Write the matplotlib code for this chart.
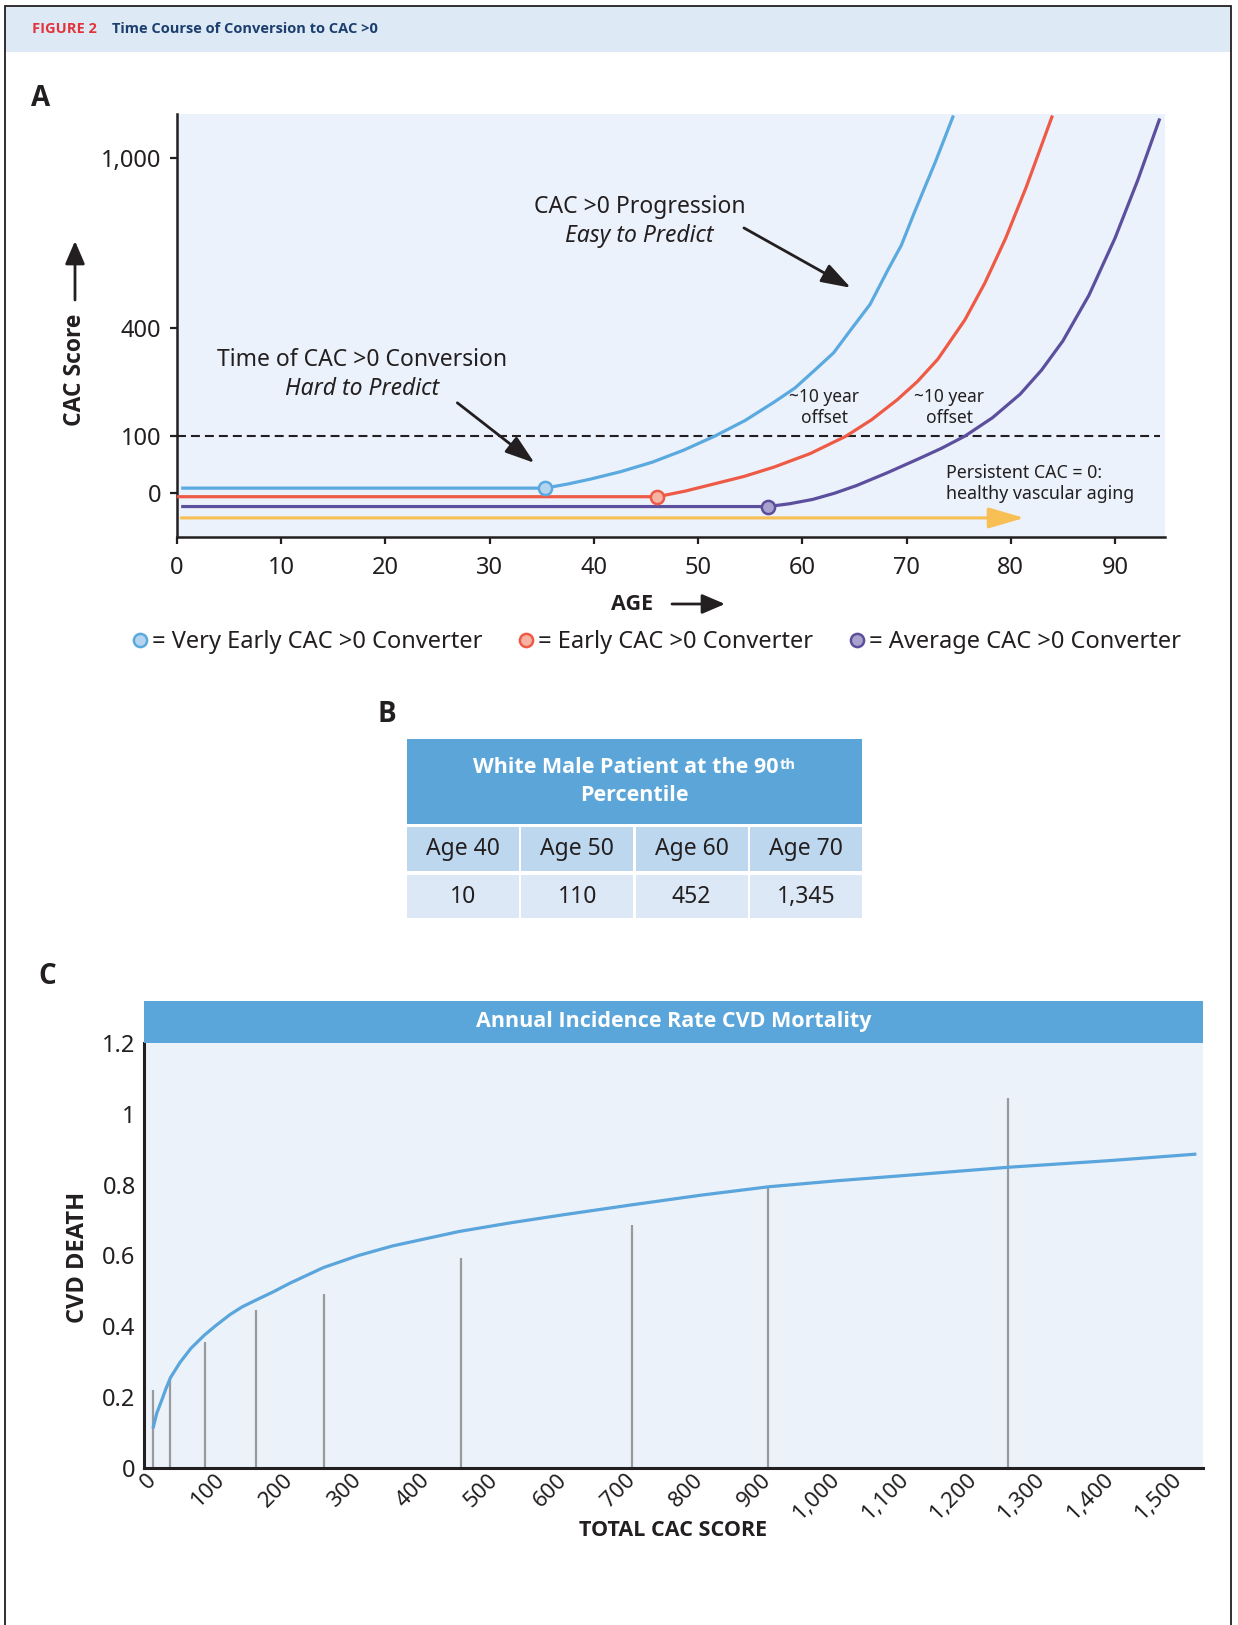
import numpy as np
import matplotlib
matplotlib.use('Agg')
import matplotlib.pyplot as plt
from matplotlib import font_manager as fm
from matplotlib.patches import Rectangle
from matplotlib.lines import Line2D

plt.rcParams['font.family'] = ['Noto Sans', 'DejaVu Sans']


def has_bold(name):
    for f in fm.fontManager.ttflist:
        if f.name == name:
            w = f.weight
            if isinstance(w, str):
                w = fm.weight_dict.get(w, 400)
            if w >= 600:
                return True
    return False


BOLD = [next((n for n in ['Noto Sans', 'Open Sans', 'Lato', 'Roboto', 'Liberation Sans']
              if has_bold(n)), 'DejaVu Sans'), 'DejaVu Sans']

# --- Panel A: schematic CAC score vs age for three converter types ---
blue_age = [0.4, 35.3, 37.5, 39.7, 42.6, 45.6, 48.6, 51.6, 54.5, 57.3, 59.3, 61.3, 63.0,
            64.8, 66.5, 68.2, 69.5, 70.8, 72.8, 74.5]
blue_cac = [4, 4, 9, 16, 28, 45, 69, 100, 137, 184, 222, 275, 323,
            400, 475, 590, 677, 800, 990, 1170]
red_age = [0, 46.1, 48.8, 51.5, 54.4, 57.3, 60.75, 64.2, 66.65, 69.1, 71.05, 73.0, 75.6,
           77.5, 79.5, 81.5, 84.0]
red_cac = [-3, -3, 1.2, 9, 20, 36, 62, 100, 139, 190, 240, 304, 425,
           545, 701, 892, 1170]
purple_age = [0.4, 56.7, 58.8, 61.0, 63.1, 65.2, 68.15, 71.1, 73.35, 75.6, 78.25, 80.9,
              82.95, 85.0, 87.5, 90.0, 92.2, 94.3]
purple_cac = [-15.7, -15.7, -11.6, -6, -0.1, 7, 26, 51, 73, 100, 144, 205,
              272, 359, 505, 702, 918, 1158]
conversion_age = [35.3, 46.1, 56.7]
conversion_cac = [4, -3, -15.7]
converter_labels = ['= Very Early CAC >0 Converter', '= Early CAC >0 Converter',
                    '= Average CAC >0 Converter']
zero_arrow_age = [0.4, 81.3]
zero_arrow_cac = -34.5
threshold_cac = 100
age_ticks = list(range(0, 100, 10))
cac_ticks = [0, 100, 400, 1000]

# --- Panel B: table ---
table_ages = ['Age 40', 'Age 50', 'Age 60', 'Age 70']
table_cac = [10, 110, 452, 1345]

# --- Panel C: annual CVD mortality by CAC score ---
cac_bins = [0, 25, 75, 150, 250, 450, 700, 900, 1250]
death_rate = [0.219, 0.25, 0.355, 0.445, 0.49, 0.593, 0.686, 0.792, 1.045]
fit_cac = [0, 5, 12, 18, 25, 39, 55, 74, 90, 112, 130, 149, 175, 200, 249, 300, 350, 400,
           448, 525, 600, 700, 800, 900, 1000, 1100, 1250, 1400, 1524]
fit_death = [0.116, 0.155, 0.19, 0.222, 0.255, 0.298, 0.338, 0.374, 0.40, 0.433, 0.455,
             0.473, 0.497, 0.522, 0.566, 0.60, 0.627, 0.648, 0.668, 0.693, 0.715, 0.743,
             0.77, 0.794, 0.811, 0.826, 0.849, 0.868, 0.886]
cac_c_ticks = list(range(0, 1600, 100))
death_ticks = [0, 0.2, 0.4, 0.6, 0.8, 1, 1.2]

BLUE, RED, PURPLE, YELLOW = '#5AA9DF', '#EE5A45', '#5B4F9E', '#F8BF55'
FACES = ['#B7D4EE', '#F6B3A3', '#A9A2CC']
INK = '#231F20'

W, H = 1238, 1625
fig = plt.figure(figsize=(W / 100, H / 100), dpi=100)


def fx(px):
    return px / W


def fy(py):
    return 1 - py / H


# header band + frame
fig.add_artist(Rectangle((fx(5), fy(52)), fx(1231) - fx(5), fy(6) - fy(52),
                         transform=fig.transFigure, fc='#DDE9F5', ec='none', zorder=0))
fig.add_artist(Rectangle((fx(5), -0.01), fx(1231) - fx(5), fy(6) + 0.01,
                         transform=fig.transFigure, fill=False, ec=INK, lw=1.3, zorder=5))
fig.text(fx(32), fy(29), 'FIGURE 2', color='#E1353B', fontsize=10.5, weight='bold',
         family=BOLD, va='center')
fig.text(fx(112), fy(29), 'Time Course of Conversion to CAC >0', color='#1C3F6E',
         fontsize=10.5, weight='bold', family=BOLD, va='center')

for lab, x, y in [('A', 31, 106), ('B', 377, 722), ('C', 38, 984)]:
    fig.text(fx(x), fy(y), lab, fontsize=20, weight='bold', family=BOLD,
             va='baseline', color=INK)

# ---------------- Panel A ----------------
axA = fig.add_axes([fx(177), fy(537), fx(1165) - fx(177), fy(114) - fy(537)])
axA.set_facecolor('#EBF2FB')


def fwd(v):
    v = np.asarray(v, float)
    return np.sign(v) * np.abs(v) ** 0.77


def inv(v):
    v = np.asarray(v, float)
    return np.sign(v) * np.abs(v) ** (1 / 0.77)


axA.set_yscale('function', functions=(fwd, inv))
axA.set_xlim(0, 94.8)
axA.set_ylim(-72, 1176)

axA.hlines(threshold_cac, 0, 94.3, colors=INK, linestyles=(0, (4.3, 2.4)), lw=1.5, zorder=2)
axA.annotate('', xy=(zero_arrow_age[1], zero_arrow_cac), xytext=(zero_arrow_age[0], zero_arrow_cac),
             arrowprops=dict(arrowstyle='-|>,head_length=1.1,head_width=0.32', mutation_scale=20,
                             color=YELLOW, lw=2.2, shrinkA=0, shrinkB=0))
for ages, cac, col in [(blue_age, blue_cac, BLUE), (red_age, red_cac, RED),
                       (purple_age, purple_cac, PURPLE)]:
    axA.plot(ages, cac, color=col, lw=2.3, zorder=3, solid_capstyle='butt',
             solid_joinstyle='round')
for a, c, col, fc in zip(conversion_age, conversion_cac, [BLUE, RED, PURPLE], FACES):
    axA.plot(a, c, 'o', ms=9.5, mfc=fc, mec=col, mew=1.8, zorder=4)

arrow_kw = dict(arrowstyle='-|>,head_length=0.9,head_width=0.3', mutation_scale=20,
                color=INK, lw=2, shrinkA=0, shrinkB=0)
axA.text(44.4, 816, 'CAC >0 Progression', ha='center', va='center', fontsize=16.5, color=INK)
axA.text(44.4, 710, 'Easy to Predict', ha='center', va='center', fontsize=16.5,
         style='italic', color=INK)
axA.annotate('', xy=(64.65, 530), xytext=(54.4, 739), arrowprops=arrow_kw)
axA.text(17.8, 302, 'Time of CAC >0 Conversion', ha='center', va='center', fontsize=16.5, color=INK)
axA.text(17.8, 219, 'Hard to Predict', ha='center', va='center', fontsize=16.5,
         style='italic', color=INK)
axA.annotate('', xy=(34.3, 43.6), xytext=(26.9, 182), arrowprops=arrow_kw)
for xa in [62.1, 74.1]:
    axA.text(xa, 169, '~10 year\noffset', ha='center', va='center', fontsize=12.5, color=INK)
axA.text(73.8, 9.4, 'Persistent CAC = 0:\nhealthy vascular aging', ha='left', va='center',
         fontsize=12.8, color=INK)

axA.set_xticks(age_ticks)
axA.set_yticks(cac_ticks)
axA.set_yticklabels([f'{v:,}' for v in cac_ticks])
axA.yaxis.set_minor_locator(matplotlib.ticker.NullLocator())
axA.tick_params(length=5, width=1.6, labelsize=17, colors=INK)
axA.tick_params(axis='x', pad=9)
axA.tick_params(axis='y', pad=6.5)
for s in ['top', 'right']:
    axA.spines[s].set_visible(False)
for s in ['left', 'bottom']:
    axA.spines[s].set_linewidth(1.8)
    axA.spines[s].set_color(INK)

fig.text(fx(75), fy(370), 'CAC Score', rotation=90, weight='bold', family=BOLD, fontsize=16.5,
         ha='center', va='center', color=INK)
axA.annotate('', xy=(fx(75), fy(241)), xytext=(fx(75), fy(300)), xycoords='figure fraction',
             textcoords='figure fraction',
             arrowprops=dict(arrowstyle='-|>,head_length=0.7,head_width=0.3', mutation_scale=20,
                             color=INK, lw=2, shrinkA=0, shrinkB=0))
fig.text(fx(632), fy(604), 'AGE', weight='bold', family=BOLD, fontsize=15.5,
         ha='center', va='center', color=INK)
axA.annotate('', xy=(fx(725), fy(604)), xytext=(fx(672), fy(604)), xycoords='figure fraction',
             textcoords='figure fraction',
             arrowprops=dict(arrowstyle='-|>,head_length=0.7,head_width=0.3', mutation_scale=20,
                             color=INK, lw=2, shrinkA=0, shrinkB=0))

handles = [Line2D([], [], ls='none', marker='o', ms=9.5, mfc=fc, mec=col, mew=1.8)
           for fc, col in zip(FACES, [BLUE, RED, PURPLE])]
axA.legend(handles, converter_labels, loc='center', bbox_to_anchor=(fx(657), fy(642)),
           bbox_transform=fig.transFigure, ncol=3, frameon=False, fontsize=17,
           handlelength=0.6, handletextpad=0.2, columnspacing=1.55, borderpad=0,
           borderaxespad=0, labelcolor=INK)

# ---------------- Panel B ----------------
axB = fig.add_axes([fx(407), fy(918), fx(862) - fx(407), fy(739) - fy(918)])
axB.set_xlim(0, 455)
axB.set_ylim(179, 0)
axB.axis('off')
axB.add_patch(Rectangle((0, 0), 455, 85, fc='#5BA5D9', ec='none'))
t1 = axB.text(455 / 2 - 9, 28, 'White Male Patient at the 90', ha='center', va='center',
              fontsize=15.5, weight='bold', family=BOLD, color='white')
axB.annotate('th', xy=(1, 1), xycoords=t1, xytext=(1, -1), textcoords='offset points',
             ha='left', va='top', fontsize=10.5, weight='bold', family=BOLD, color='white')
axB.text(455 / 2, 56, 'Percentile', ha='center', va='center', fontsize=15.5,
         weight='bold', family=BOLD, color='white')
gap = 2.7
cw = (455 - 3 * gap) / 4
for i, (lab, val) in enumerate(zip(table_ages, table_cac)):
    x0 = i * (cw + gap)
    axB.add_patch(Rectangle((x0, 88.4), cw, 44, fc='#BDD7EF', ec='none'))
    axB.add_patch(Rectangle((x0, 136), cw, 43, fc='#DCE8F5', ec='none'))
    axB.text(x0 + cw / 2, 110.4, lab, ha='center', va='center', fontsize=16.5, color=INK)
    axB.text(x0 + cw / 2, 157.5, f'{val:,}', ha='center', va='center', fontsize=16.5, color=INK)

# ---------------- Panel C ----------------
fig.add_artist(Rectangle((fx(144), fy(1043)), fx(1203) - fx(144), fy(1001) - fy(1043),
                         transform=fig.transFigure, fc='#5AA5D9', ec='none'))
fig.text(fx(673.5), fy(1022), 'Annual Incidence Rate CVD Mortality', ha='center', va='center',
         fontsize=15.5, weight='bold', family=BOLD, color='white')
axC = fig.add_axes([fx(144), fy(1468), fx(1203) - fx(144), fy(1043) - fy(1468)])
axC.set_facecolor('#EBF2FA')
axC.vlines(cac_bins, 0, death_rate, colors='#999A9C', lw=1.6, zorder=2)
axC.plot(fit_cac, fit_death, color='#5AA5DB', lw=2.3, zorder=3, solid_joinstyle='round')
axC.set_xlim(-13.7, 1536)
axC.set_ylim(0, 1.2)
axC.set_yticks(death_ticks)
axC.set_yticklabels(['0', '0.2', '0.4', '0.6', '0.8', '1', '1.2'])
axC.set_xticks(cac_c_ticks)
axC.set_xticklabels([f'{v:,}' for v in cac_c_ticks], rotation=45, ha='right', va='center',
                    rotation_mode='anchor')
axC.tick_params(length=0, colors=INK)
axC.tick_params(axis='y', labelsize=17, pad=6)
axC.tick_params(axis='x', labelsize=16, pad=6.5)
for s in ['top', 'right']:
    axC.spines[s].set_visible(False)
for s in ['left', 'bottom']:
    axC.spines[s].set_linewidth(2.2)
    axC.spines[s].set_color(INK)
fig.text(fx(78), fy(1257), 'CVD DEATH', rotation=90, weight='bold', family=BOLD, fontsize=17,
         ha='center', va='center', color=INK)
fig.text(fx(673), fy(1530), 'TOTAL CAC SCORE', weight='bold', family=BOLD, fontsize=15.5,
         ha='center', va='center', color=INK)

fig.savefig('out.png', dpi=100)
